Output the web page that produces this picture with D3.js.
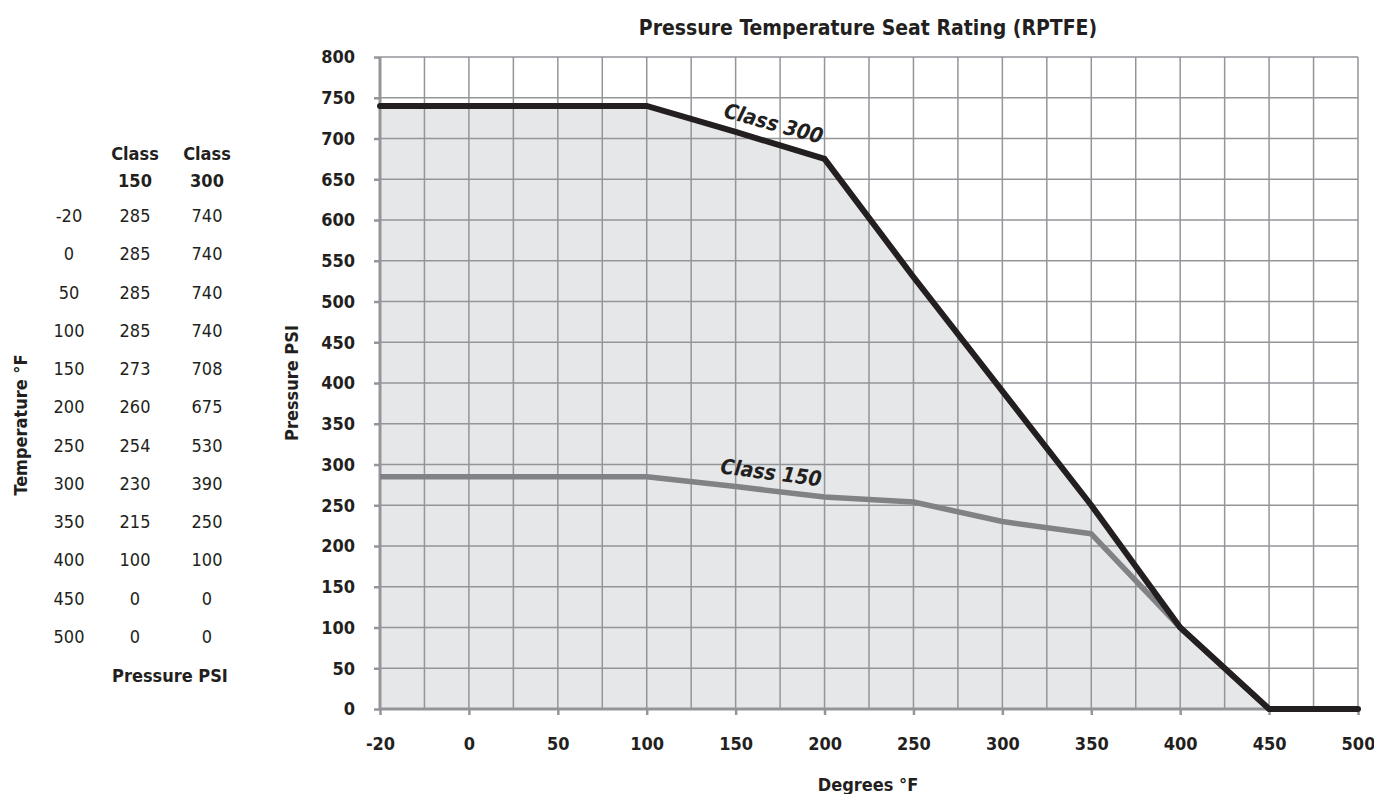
<!DOCTYPE html>
<html><head><meta charset="utf-8">
<script src="https://cdn.jsdelivr.net/npm/d3@7"></script>
<style>
html,body{margin:0;padding:0;background:#fff;}
svg text{font-family:"Liberation Sans Narrow","DejaVu Sans Condensed","Roboto Condensed",sans-serif;}
</style></head><body>
<svg id="c" width="1374" height="794"></svg>
<script>
const temps = [-20, 0, 50, 100, 150, 200, 250, 300, 350, 400, 450, 500];
const class150 = [285, 285, 285, 285, 273, 260, 254, 230, 215, 100, 0, 0];
const class300 = [740, 740, 740, 740, 708, 675, 530, 390, 250, 100, 0, 0];
const yTicks = [0, 50, 100, 150, 200, 250, 300, 350, 400, 450, 500, 550, 600, 650, 700, 750, 800];
const title = "Pressure Temperature Seat Rating (RPTFE)";

const svg = d3.select("#c");
const x = d3.scalePoint().domain(temps).range([380, 1358]);
const y = d3.scaleLinear().domain([0, 800]).range([709, 57]);
const step = x.step();

const d300 = temps.map((t, i) => ({t, v: class300[i]}));
const d150 = temps.map((t, i) => ({t, v: class150[i]}));

// shaded area
svg.append("path").datum(d300)
  .attr("d", d3.area().x(d => x(d.t)).y0(y(0)).y1(d => y(d.v)))
  .attr("fill", "#e6e7e8");

// grid
const gx = [];
temps.forEach((t, i) => { gx.push(x(t)); if (i < temps.length - 1) gx.push(x(t) + step / 2); });
svg.append("g").selectAll("line").data(gx).join("line")
  .attr("x1", d => d).attr("x2", d => d).attr("y1", y(0)).attr("y2", y(800))
  .attr("stroke", "#939598").attr("stroke-width", 1.5);
svg.append("g").selectAll("line").data(yTicks).join("line")
  .attr("x1", x(-20)).attr("x2", x(500)).attr("y1", d => y(d)).attr("y2", d => y(d))
  .attr("stroke", "#939598").attr("stroke-width", 1.5);

// axes
const yAxis = svg.append("g").attr("transform", `translate(${x(-20)},0)`)
  .call(d3.axisLeft(y).tickValues(yTicks).tickSize(6).tickPadding(19).tickFormat(d3.format("d")));
const xAxis = svg.append("g").attr("transform", `translate(0,${y(0)})`)
  .call(d3.axisBottom(x).tickSize(6).tickPadding(22));
[yAxis, xAxis].forEach(g => {
  g.select(".domain").attr("stroke", "#939598").attr("stroke-width", 3);
  g.selectAll(".tick line").attr("stroke", "#939598").attr("stroke-width", 2.5);
  g.selectAll(".tick text").attr("fill", "#231f20").attr("font-size", 18).attr("font-weight", "bold")
    .style("font-family", '"Liberation Sans Narrow","DejaVu Sans Condensed",sans-serif');
});
xAxis.select(".domain").attr("d", `M${x(-20)},0H${x(500)}`);
yAxis.select(".domain").attr("d", `M0,${y(0)}V${y(800)}`);

// lines
const line = d3.line().x(d => x(d.t)).y(d => y(d.v));
svg.append("path").datum(d150).attr("d", line).attr("fill", "none")
  .attr("stroke", "#808285").attr("stroke-width", 5.5).attr("stroke-linejoin", "round");
svg.append("path").datum(d300).attr("d", line).attr("fill", "none")
  .attr("stroke", "#231f20").attr("stroke-width", 6).attr("stroke-linejoin", "miter").attr("stroke-linecap", "round");

// line labels
function ang(a, b) { return Math.atan2(y(b.v) - y(a.v), x(b.t) - x(a.t)) * 180 / Math.PI; }
const lbl300x = (x(100) + x(200)) / 2 + 36, lbl300y = (y(740) + y(675)) / 2 - 2;
svg.append("text").attr("transform", `translate(${lbl300x},${lbl300y}) rotate(${ang(d300[3], d300[4]) - 1})`)
  .attr("text-anchor", "middle").attr("font-size", 21).attr("font-weight", "bold").attr("font-style", "italic")
  .attr("fill", "#231f20").text("Class 300");
const lbl150x = (x(150) + x(200)) / 2 - 10, lbl150y = (y(273) + y(260)) / 2 - 12;
svg.append("text").attr("transform", `translate(${lbl150x},${lbl150y}) rotate(${ang(d150[3], d150[5]) + 1})`)
  .attr("text-anchor", "middle").attr("font-size", 21).attr("font-weight", "bold").attr("font-style", "italic")
  .attr("fill", "#231f20").text("Class 150");

// titles
svg.append("text").attr("x", 868).attr("y", 35).attr("text-anchor", "middle")
  .attr("font-size", 21).attr("font-weight", "bold").attr("fill", "#231f20").text(title);
svg.append("text").attr("x", 868).attr("y", 791).attr("text-anchor", "middle")
  .attr("font-size", 18).attr("font-weight", "bold").attr("fill", "#231f20").text("Degrees °F");
svg.append("text").attr("transform", "translate(298,383) rotate(-90)").attr("text-anchor", "middle")
  .attr("font-size", 18).attr("font-weight", "bold").attr("fill", "#231f20").text("Pressure PSI");

// table
const tbl = svg.append("g");
const rowY = d3.scalePoint().domain(temps).range([222, 643]);
tbl.append("text").attr("x", 135).attr("y", 160).attr("text-anchor", "middle").attr("font-size", 18).attr("font-weight", "bold").attr("fill", "#231f20").text("Class");
tbl.append("text").attr("x", 135).attr("y", 187).attr("text-anchor", "middle").attr("font-size", 18).attr("font-weight", "bold").attr("fill", "#231f20").text("150");
tbl.append("text").attr("x", 207).attr("y", 160).attr("text-anchor", "middle").attr("font-size", 18).attr("font-weight", "bold").attr("fill", "#231f20").text("Class");
tbl.append("text").attr("x", 207).attr("y", 187).attr("text-anchor", "middle").attr("font-size", 18).attr("font-weight", "bold").attr("fill", "#231f20").text("300");
const rows = tbl.selectAll("g.row").data(temps.map((t, i) => ({t, a: class150[i], b: class300[i]}))).join("g").attr("class", "row");
rows.append("text").attr("x", 69).attr("y", d => rowY(d.t)).attr("text-anchor", "middle").attr("font-size", 18).attr("fill", "#231f20").text(d => d.t);
rows.append("text").attr("x", 135).attr("y", d => rowY(d.t)).attr("text-anchor", "middle").attr("font-size", 18).attr("fill", "#231f20").text(d => d.a);
rows.append("text").attr("x", 207).attr("y", d => rowY(d.t)).attr("text-anchor", "middle").attr("font-size", 18).attr("fill", "#231f20").text(d => d.b);
tbl.append("text").attr("x", 170).attr("y", 682).attr("text-anchor", "middle").attr("font-size", 18).attr("font-weight", "bold").attr("fill", "#231f20").text("Pressure PSI");
tbl.append("text").attr("transform", "translate(27,425) rotate(-90)").attr("text-anchor", "middle").attr("font-size", 18).attr("font-weight", "bold").attr("fill", "#231f20").text("Temperature °F");
</script>
</body></html>
